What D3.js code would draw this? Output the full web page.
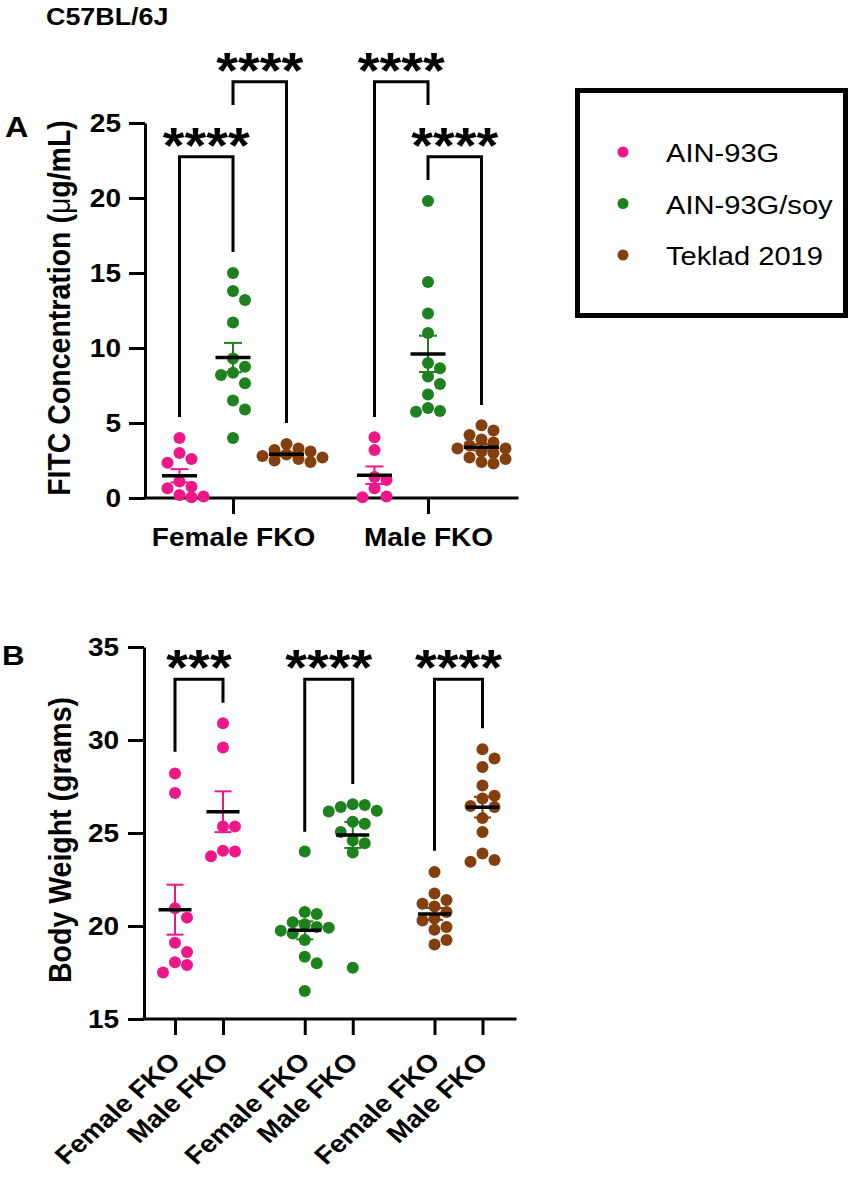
<!DOCTYPE html>
<html>
<head>
<meta charset="utf-8">
<script src="https://cdn.jsdelivr.net/npm/d3@7"></script>
<style>
  body { margin: 0; background: #fff; }
  svg { display: block; }
  text { font-family: "Liberation Sans", Arial, sans-serif; fill: #000; }
</style>
</head>
<body>
<svg id="fig" width="851" height="1177"></svg>
<script>
"use strict";

// groups
const diets = ["AIN-93G", "AIN-93G/soy", "Teklad 2019"];
const dietColors = ["#EF168A", "#1D811D", "#833F0D"];
const sexes = ["Female FKO", "Male FKO"];

// panel A : FITC concentration (ug/mL)
const fitcFemaleAin = [4.0, 3.0, 2.6, 2.35, 1.1, 0.75, 0.65, 0.2, 0.05, 0.1];
const fitcFemaleSoy = [15.0, 13.8, 13.2, 11.7, 9.3, 8.75, 8.35, 8.2, 7.65, 6.5, 5.9, 4.0];
const fitcFemaleTeklad = [3.6, 3.3, 3.2, 3.1, 2.9, 2.8, 2.7, 2.6, 2.5, 2.4];
const fitcMaleAin = [4.05, 3.2, 1.4, 1.2, 0.65, 0.05, 0.1];
const fitcMaleSoy = [19.8, 14.4, 12.3, 11.0, 9.0, 8.65, 8.1, 7.6, 6.9, 5.75, 6.0, 5.8];
const fitcMaleTeklad = [4.85, 4.5, 4.2, 3.9, 3.7, 3.5, 3.3, 3.3, 3.1, 3.0, 2.7, 2.6, 2.4, 2.3];
const fitcTicks = [0, 5, 10, 15, 20, 25];

// significance brackets A : [sex, dietA, dietB]
const fitcPairs = [["Female FKO", 0, 1], ["Female FKO", 1, 2], ["Male FKO", 0, 1], ["Male FKO", 1, 2]];
const fitcBarTop = [22.75, 27.75, 27.75, 22.75];
const fitcBarLegs = [[5.4, 16.4], [26.2, 5.0], [5.4, 26.2], [21.2, 6.2]];
const fitcStars = ["****", "****", "****", "****"];

// panel B : body weight (grams)
const bwAinFemale = [28.2, 27.15, 20.95, 20.45, 19.1, 18.6, 18.05, 17.9, 17.5];
const bwAinMale = [30.9, 29.6, 25.35, 25.35, 23.75, 24.05, 24.0];
const bwSoyFemale = [24.0, 20.75, 20.65, 20.2, 20.1, 19.9, 19.95, 19.75, 19.6, 19.25, 18.35, 18.0, 16.5];
const bwSoyMale = [26.55, 26.5, 26.4, 26.2, 26.15, 25.6, 25.5, 25.05, 24.6, 24.45, 23.95, 17.75];
const bwTekladFemale = [22.9, 21.75, 21.4, 21.2, 21.05, 20.75, 20.4, 20.3, 19.95, 19.8, 19.25, 19.0];
const bwTekladMale = [29.5, 29.0, 28.55, 27.55, 26.85, 27.0, 26.45, 26.4, 25.8, 25.05, 23.9, 23.45, 23.55];
const bwTicks = [15, 20, 25, 30, 35];

// significance brackets B : female vs male per diet
const bwBarTop = [33.26, 33.26, 33.26];
const bwBarLegs = [[29.37, 32.0], [25.07, 27.63], [24.05, 30.63]];
const bwStars = ["***", "****", "****"];


const SX = 1.12;     // text in the figure is a little wide
const R = 6;         // dot radius
const svg = d3.select("#fig");


// little beeswarm: put dots side by side when they collide
function swarm(values, y, cx) {
    const out = [];
    values.slice().sort((a, b) => b - a).forEach(v => {
        const py = y(v);
        let placed = false;
        for (const k of [0, 1, -1, 2, -2, 3, -3]) {
            const px = cx + k * 2 * R;
            if (out.every(p => Math.hypot(p.x - px, p.y - py) >= 1.75 * R)) {
                out.push({ x: px, y: py });
                placed = true;
                break;
            }
        }
        if (!placed) out.push({ x: cx, y: py });
    });
    return out;
}

function drawGroup(g, values, cx, y, color, halfMean, halfCap) {
    const mean = d3.mean(values);
    const sem = d3.deviation(values) / Math.sqrt(values.length);

    g.append("g").selectAll("circle")
        .data(swarm(values, y, cx))
        .join("circle")
        .attr("cx", d => d.x)
        .attr("cy", d => d.y)
        .attr("r", R)
        .attr("fill", color);

    // sem bar
    g.append("line")
        .attr("x1", cx).attr("x2", cx)
        .attr("y1", y(mean - sem)).attr("y2", y(mean + sem))
        .attr("stroke", color).attr("stroke-width", 2);
    [mean - sem, mean + sem].forEach(v => {
        g.append("line")
            .attr("x1", cx - halfCap).attr("x2", cx + halfCap)
            .attr("y1", y(v)).attr("y2", y(v))
            .attr("stroke", color).attr("stroke-width", 2);
    });

    // mean
    g.append("line")
        .attr("x1", cx - halfMean).attr("x2", cx + halfMean)
        .attr("y1", y(mean)).attr("y2", y(mean))
        .attr("stroke", "#000").attr("stroke-width", 3.5);
}

function drawBracket(g, xa, xb, y, top, legs, stars) {
    g.append("path")
        .attr("d", `M${xa},${y(legs[0])}V${y(top)}H${xb}V${y(legs[1])}`)
        .attr("fill", "none")
        .attr("stroke", "#000")
        .attr("stroke-width", 3);
    g.append("text")
        .attr("transform", `translate(${(xa + xb) / 2},${y(top) + 6}) scale(${SX},1)`)
        .attr("text-anchor", "middle")
        .attr("font-size", 50)
        .attr("font-weight", "bold")
        .text(stars);
}

function styleAxis(g) {
    g.selectAll("path.domain, line").attr("stroke", "#000").attr("stroke-width", 3);
    g.selectAll("text")
        .attr("font-size", 25)
        .attr("font-weight", "bold")
        .attr("font-family", "'Liberation Sans', Arial, sans-serif")
        .attr("fill", "#000");
}


// title
svg.append("text")
    .attr("transform", `translate(46,25) scale(${SX},1)`)
    .attr("font-size", 24)
    .attr("font-weight", "bold")
    .text("C57BL/6J");


/* ---------------- panel A ---------------- */

const yA = d3.scaleLinear().domain([0, 25]).range([498, 123]);
const xSexA = d3.scalePoint().domain(sexes).range([233, 428]);
const xDietA = d3.scalePoint().domain(diets).range([-53.5, 53.5]);
const axA = 145;

const gA = svg.append("g");

const fitcGroups = [
    [fitcFemaleAin, fitcFemaleSoy, fitcFemaleTeklad],
    [fitcMaleAin, fitcMaleSoy, fitcMaleTeklad]
];

// axes
const yAxisA = gA.append("g")
    .attr("transform", `translate(${axA},0)`)
    .call(d3.axisLeft(yA).tickValues(fitcTicks).tickSize(16).tickSizeOuter(0).tickPadding(8));
styleAxis(yAxisA);
yAxisA.selectAll("text").attr("x", -24 / SX).attr("transform", `scale(${SX},1)`);

gA.append("line")
    .attr("x1", axA).attr("x2", 517)
    .attr("y1", yA(0)).attr("y2", yA(0))
    .attr("stroke", "#000").attr("stroke-width", 3).attr("stroke-linecap", "square");

const xAxisA = gA.append("g")
    .attr("transform", `translate(0,${yA(0)})`)
    .call(d3.axisBottom(xSexA).tickSize(16).tickSizeOuter(0).tickPadding(12));
xAxisA.select("path.domain").remove();
styleAxis(xAxisA);
xAxisA.selectAll("text").attr("y", 48).attr("dy", 0).attr("transform", `scale(${SX},1)`);

const titleA = gA.append("text")
    .attr("transform", `translate(70,308) rotate(-90) scale(1,${SX})`)
    .attr("text-anchor", "middle")
    .attr("font-size", 28.5)
    .attr("font-weight", "bold");
titleA.append("tspan").text("FITC Concentration (");
titleA.append("tspan").attr("font-weight", "normal").text("\u03bc");
titleA.append("tspan").text("g/mL)");

svg.append("text")
    .attr("transform", `translate(5,137) scale(${SX},1)`)
    .attr("font-size", 29)
    .attr("font-weight", "bold")
    .text("A");

// dots, sem, mean
sexes.forEach((s, si) => {
    diets.forEach((d, di) => {
        drawGroup(gA, fitcGroups[si][di], xSexA(s) + xDietA(d), yA, dietColors[di], 17.5, 9);
    });
});

// brackets
fitcPairs.forEach((p, i) => {
    drawBracket(gA,
        xSexA(p[0]) + xDietA(diets[p[1]]),
        xSexA(p[0]) + xDietA(diets[p[2]]),
        yA, fitcBarTop[i], fitcBarLegs[i], fitcStars[i]);
});


// legend
const leg = svg.append("g");
leg.append("rect")
    .attr("x", 577.5).attr("y", 90.5)
    .attr("width", 268).attr("height", 225)
    .attr("fill", "none").attr("stroke", "#000").attr("stroke-width", 5);

const legRow = d3.scalePoint().domain(diets).range([152, 255]);
diets.forEach((d, i) => {
    leg.append("circle")
        .attr("cx", 623).attr("cy", legRow(d))
        .attr("r", 5.5)
        .attr("fill", dietColors[i]);
    leg.append("text")
        .attr("transform", `translate(666,${legRow(d) + 10}) scale(${SX},1)`)
        .attr("font-size", 26)
        .text(d);
});


/* ---------------- panel B ---------------- */

const yB = d3.scaleLinear().domain([15, 35]).range([1019, 647]);
const xDietB = d3.scalePoint().domain(diets).range([199, 458.5]);
const xSexB = d3.scalePoint().domain(sexes).range([-24, 24]);
const axB = 144;

const bwGroups = [
    [bwAinFemale, bwAinMale],
    [bwSoyFemale, bwSoyMale],
    [bwTekladFemale, bwTekladMale]
];

const gB = svg.append("g");

const yAxisB = gB.append("g")
    .attr("transform", `translate(${axB},0)`)
    .call(d3.axisLeft(yB).tickValues(bwTicks).tickSize(16).tickSizeOuter(0).tickPadding(8));
styleAxis(yAxisB);
yAxisB.selectAll("text").attr("x", -25 / SX).attr("transform", `scale(${SX},1)`);

gB.append("line")
    .attr("x1", axB).attr("x2", 515)
    .attr("y1", yB(15)).attr("y2", yB(15))
    .attr("stroke", "#000").attr("stroke-width", 3).attr("stroke-linecap", "square");

// one tick per diet/sex column
const colKeys = [];
diets.forEach(d => sexes.forEach(s => colKeys.push(d + "|" + s)));
const xColB = d3.scaleOrdinal()
    .domain(colKeys)
    .range(colKeys.map(k => xDietB(k.split("|")[0]) + xSexB(k.split("|")[1])));

const xAxisB = gB.append("g")
    .attr("transform", `translate(0,${yB(15)})`)
    .call(d3.axisBottom(xColB).tickSize(16).tickSizeOuter(0).tickFormat(k => k.split("|")[1]));
xAxisB.select("path.domain").remove();
styleAxis(xAxisB);
xAxisB.selectAll("text")
    .attr("x", 0).attr("y", 0).attr("dy", 0)
    .attr("text-anchor", "end")
    .attr("transform", `translate(6.5,44) scale(${SX},1) rotate(-45)`);

gB.append("text")
    .attr("transform", `translate(71,840) rotate(-90) scale(1,${SX})`)
    .attr("text-anchor", "middle")
    .attr("font-size", 28.5)
    .attr("font-weight", "bold")
    .text("Body Weight (grams)");

svg.append("text")
    .attr("transform", `translate(2,665) scale(${SX},1)`)
    .attr("font-size", 28)
    .attr("font-weight", "bold")
    .text("B");

diets.forEach((d, di) => {
    sexes.forEach((s, si) => {
        drawGroup(gB, bwGroups[di][si], xDietB(d) + xSexB(s), yB, dietColors[di], 16.5, 8.5);
    });
});

diets.forEach((d, i) => {
    drawBracket(gB, xDietB(d) + xSexB(sexes[0]), xDietB(d) + xSexB(sexes[1]),
        yB, bwBarTop[i], bwBarLegs[i], bwStars[i]);
});
</script>
</body>
</html>
